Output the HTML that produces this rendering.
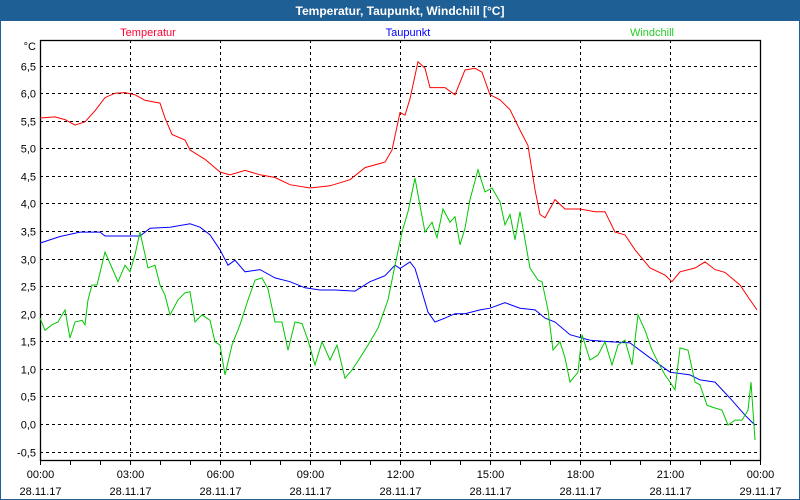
<!DOCTYPE html>
<html><head><meta charset="utf-8"><style>
html,body{margin:0;padding:0;background:#fff}
#wrap{position:relative;width:798px;height:498px;border:1px solid #1e5f96;overflow:hidden;background:#fff}
#title{position:absolute;left:0;top:0;width:798px;height:20px;background:#1e5f96;color:#fff;font:bold 12px "Liberation Sans",sans-serif;text-align:center;line-height:20px}
svg text{font-family:"Liberation Sans",sans-serif;font-size:11px}
</style></head><body>
<div id="wrap">
<div id="title">Temperatur, Taupunkt, Windchill [°C]</div>
<svg id="chart" width="800" height="500" style="position:absolute;left:-1px;top:-1px"></svg>
</div>
<script>
const yTicks=[6.5,6.0,5.5,5.0,4.5,4.0,3.5,3.0,2.5,2.0,1.5,1.0,0.5,0.0,-0.5];
const xTickHours=[0,3,6,9,12,15,18,21,24];
const xTimeLabels=["00:00","03:00","06:00","09:00","12:00","15:00","18:00","21:00","00:00"];
const xDateLabels=["28.11.17","28.11.17","28.11.17","28.11.17","28.11.17","28.11.17","28.11.17","28.11.17","29.11.17"];
const tempMin=[0,30,50,70,90,110,130,150,170,190,210,240,250,264,290,300,330,360,380,410,440,470,500,540,580,620,650,690,704,720,730,740,756,770,780,810,830,850,870,884,900,920,940,960,976,990,1000,1010,1030,1050,1080,1110,1130,1150,1170,1190,1220,1250,1264,1280,1310,1330,1350,1370,1400,1420,1434];
const tempVal=[5.55,5.57,5.52,5.42,5.48,5.68,5.92,6.0,6.01,5.97,5.87,5.82,5.55,5.25,5.15,4.97,4.8,4.57,4.52,4.6,4.52,4.47,4.34,4.28,4.32,4.43,4.65,4.75,4.97,5.65,5.6,5.9,6.57,6.45,6.1,6.1,5.97,6.42,6.45,6.38,5.97,5.88,5.7,5.33,5.05,4.25,3.8,3.74,4.07,3.9,3.9,3.85,3.85,3.48,3.43,3.16,2.83,2.7,2.58,2.76,2.83,2.94,2.8,2.75,2.52,2.25,2.07];
const dewMin=[0,40,80,120,130,200,220,260,300,320,340,360,376,390,410,440,470,500,530,560,590,630,660,690,710,720,740,750,760,776,790,810,830,850,880,900,930,960,990,1010,1030,1060,1100,1140,1180,1220,1260,1300,1320,1350,1380,1410,1430];
const dewVal=[3.28,3.4,3.48,3.48,3.41,3.41,3.55,3.57,3.63,3.57,3.43,3.16,2.88,2.97,2.76,2.8,2.65,2.58,2.47,2.43,2.43,2.41,2.58,2.69,2.88,2.82,2.94,2.82,2.52,2.03,1.85,1.92,2.0,2.0,2.07,2.1,2.2,2.1,2.07,1.92,1.85,1.62,1.52,1.49,1.47,1.2,0.94,0.89,0.8,0.76,0.47,0.16,-0.02];
const windMin=[0,10,24,36,50,60,70,84,90,96,104,114,130,144,156,170,180,190,200,216,230,240,250,260,276,290,300,310,324,340,350,360,370,384,400,416,430,444,456,470,484,496,510,524,536,550,564,580,594,610,624,640,656,676,696,710,724,736,750,760,770,784,794,806,820,830,840,850,860,876,890,904,920,930,940,950,960,970,980,996,1004,1016,1026,1040,1050,1060,1076,1084,1100,1116,1130,1144,1156,1170,1184,1196,1210,1224,1236,1250,1260,1270,1280,1296,1310,1320,1334,1350,1364,1376,1390,1404,1416,1422,1430];
const windVal=[1.92,1.7,1.8,1.85,2.07,1.56,1.85,1.88,1.8,2.25,2.52,2.52,3.12,2.83,2.58,2.88,2.76,3.07,3.48,2.83,2.88,2.52,2.34,1.98,2.25,2.38,2.4,1.85,1.98,1.88,1.49,1.43,0.89,1.43,1.8,2.25,2.61,2.65,2.45,1.85,1.85,1.34,1.85,1.82,1.52,1.07,1.49,1.16,1.43,0.83,0.98,1.2,1.43,1.74,2.25,2.88,3.48,3.85,4.46,3.96,3.48,3.66,3.38,3.9,3.66,3.76,3.25,3.55,4.07,4.61,4.21,4.28,4.03,3.61,3.8,3.34,3.85,3.34,2.83,2.61,2.58,2.07,1.34,1.49,1.2,0.76,0.94,1.62,1.16,1.25,1.49,1.07,1.43,1.52,1.07,1.98,1.7,1.34,1.12,0.89,0.76,0.62,1.38,1.34,0.76,0.71,0.34,0.29,0.25,-0.02,0.07,0.07,0.25,0.76,-0.29];

const NS="http://www.w3.org/2000/svg";
const svg=document.getElementById('chart');
const L=40,R=760,T=40,B=460;
const xS=m=>L+(m/1440)*(R-L);
const yS=v=>424-v*55.14;
function mk(tag,attrs,parent){const e=document.createElementNS(NS,tag);for(const k in attrs)e.setAttribute(k,attrs[k]);(parent||svg).appendChild(e);return e;}
yTicks.forEach(v=>{
 const y=Math.round(yS(v))+0.5;
 const g=mk('line',{x1:L,x2:R,y1:y,y2:y,stroke:'#000','stroke-dasharray':'3,3','stroke-width':1});
 
 
 const t=mk('text',{x:36,y:y+4,'text-anchor':'end',fill:'#000'});
 t.textContent=v.toFixed(1).replace('.',',');
 
 
});
xTickHours.forEach((h,i)=>{
 const x=Math.round(xS(h*60))+0.5;
 if(i>0&&i<xTickHours.length-1){
  const g=mk('line',{x1:x,x2:x,y1:T,y2:B,stroke:'#000','stroke-dasharray':'3,3','stroke-width':1});
  
  
 }
 const t1=mk('text',{x:x,y:478,'text-anchor':'middle',fill:'#000'});
 t1.textContent=xTimeLabels[i];
 
 
 const t2=mk('text',{x:x,y:495,'text-anchor':'middle',fill:'#000'});
 t2.textContent=xDateLabels[i];
 
 
});
for(let h=0;h<=24;h++){
 const x=Math.round(xS(h*60))+0.5;
 const tk=mk('line',{x1:x,x2:x,y1:B,y2:B+5,stroke:'#000'});
 
 
}
const frame=mk('rect',{x:L+0.5,y:T+0.5,width:R-L,height:B-T,fill:'none',stroke:'#000','stroke-width':1.3});


const unit=mk('text',{x:36,y:50,'text-anchor':'end',fill:'#000'});
unit.textContent='°C';


function series(ms,vs,color,name){
 const p=mk('polyline',{points:ms.map((m,i)=>xS(m).toFixed(1)+','+yS(vs[i]).toFixed(1)).join(' '),fill:'none',stroke:color,'stroke-width':1});
 
 
}
series(tempMin,tempVal,'#ff0000','temperatur-line');
series(dewMin,dewVal,'#0000ff','taupunkt-line');
series(windMin,windVal,'#00c800','windchill-line');
[['Temperatur','#ff0033',148],['Taupunkt','#0000ff',408],['Windchill','#22cc22',652]].forEach(l=>{
 const t=mk('text',{x:l[2],y:36,'text-anchor':'middle',fill:l[1]});
 t.textContent=l[0];
 
 
});
</script>
</body></html>
